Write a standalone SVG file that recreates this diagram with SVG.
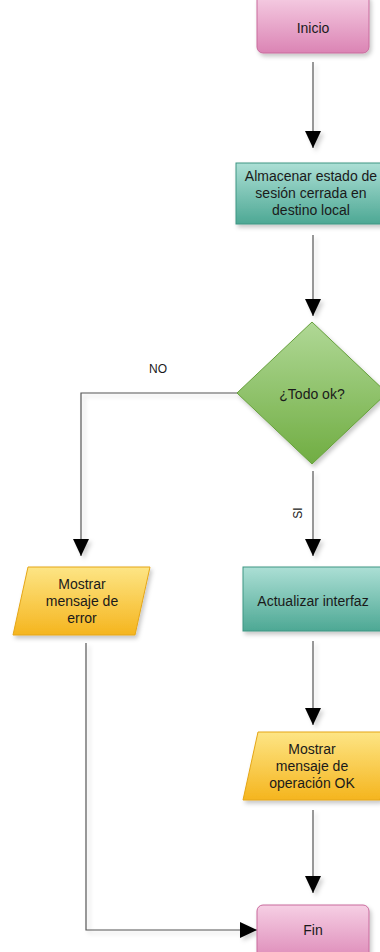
<svg xmlns="http://www.w3.org/2000/svg" width="380" height="952" viewBox="0 0 380 952">
  <defs>
    <linearGradient id="gPink" x1="0" y1="0" x2="0" y2="1">
      <stop offset="0" stop-color="#f6cfe4"/>
      <stop offset="1" stop-color="#db84b4"/>
    </linearGradient>
    <linearGradient id="gTeal" x1="0" y1="0" x2="0" y2="1">
      <stop offset="0" stop-color="#acdfd5"/>
      <stop offset="1" stop-color="#4da894"/>
    </linearGradient>
    <linearGradient id="gGreen" x1="0" y1="0" x2="0" y2="1">
      <stop offset="0" stop-color="#b0d896"/>
      <stop offset="1" stop-color="#70ad42"/>
    </linearGradient>
    <linearGradient id="gYellow" x1="0" y1="0" x2="0" y2="1">
      <stop offset="0" stop-color="#fde585"/>
      <stop offset="1" stop-color="#f5b51e"/>
    </linearGradient>
    <!-- soft drop shadow for shapes -->
    <filter id="shadow" x="-20%" y="-20%" width="150%" height="150%">
      <feDropShadow dx="2" dy="3" stdDeviation="2" flood-color="#000" flood-opacity="0.22"/>
    </filter>
    <!-- shadow for lines; user-space region so straight lines keep a non-empty box -->
    <filter id="lineShadow" filterUnits="userSpaceOnUse" x="0" y="0" width="380" height="952">
      <feDropShadow dx="3" dy="3" stdDeviation="2" flood-color="#000" flood-opacity="0.18"/>
    </filter>
    <marker id="arrow" markerUnits="userSpaceOnUse" markerWidth="18" markerHeight="18" refX="17" refY="8" orient="auto">
      <path d="M0 0 L17 8 L0 16 Z" fill="#000"/>
    </marker>
  </defs>
  <style>
    .lbl { font-family: "Liberation Sans", Arial, sans-serif; font-size: 14px; fill: #1a1a1a; text-anchor: middle; }
    .small { font-family: "Liberation Sans", Arial, sans-serif; font-size: 12px; fill: #1a1a1a; text-anchor: middle; }
    .edge { fill: none; stroke: #555; stroke-width: 1.2; marker-end: url(#arrow); }
    .pink { fill: url(#gPink); stroke: #c86a9c; stroke-width: 1; filter: url(#shadow); }
    .teal { fill: url(#gTeal); stroke: #3f9583; stroke-width: 1; filter: url(#shadow); }
    .green { fill: url(#gGreen); stroke: #66a03c; stroke-width: 1; filter: url(#shadow); }
    .yellow { fill: url(#gYellow); stroke: #e5a616; stroke-width: 1; filter: url(#shadow); }
  </style>

  <g id="connectors">
    <g filter="url(#lineShadow)">
      <path class="edge" d="M313 62 V148"/>
      <path class="edge" d="M313 235 V316"/>
      <path class="edge" d="M237 393 H81 V556"/>
      <path class="edge" d="M313 471 V556"/>
      <path class="edge" d="M313 641 V725"/>
      <path class="edge" d="M313 810 V893"/>
      <path class="edge" d="M86 643 V930 H257"/>
    </g>
    <text class="small" x="158" y="373">NO</text>
    <text class="small" transform="translate(302 513) rotate(-90)" x="0" y="0">SI</text>
  </g>

  <g id="inicio">
    <rect class="pink" x="257" y="-6" width="112" height="59" rx="6"/>
    <text class="lbl" x="313" y="33">Inicio</text>
  </g>

  <g id="almacenar">
    <rect class="teal" x="236" y="163" width="150" height="61"/>
    <text class="lbl" x="311" y="181">Almacenar estado de</text>
    <text class="lbl" x="311" y="198">sesión cerrada en</text>
    <text class="lbl" x="311" y="215">destino local</text>
  </g>

  <g id="decision">
    <polygon class="green" points="312,322 387,393 312,464 237,393"/>
    <text class="lbl" x="312" y="399">¿Todo ok?</text>
  </g>

  <g id="error">
    <polygon class="yellow" points="28,567 150,567 135,635 13,635"/>
    <text class="lbl" x="82" y="589">Mostrar</text>
    <text class="lbl" x="82" y="606">mensaje de</text>
    <text class="lbl" x="82" y="623">error</text>
  </g>

  <g id="actualizar">
    <rect class="teal" x="243" y="567" width="145" height="64"/>
    <text class="lbl" x="313" y="606">Actualizar interfaz</text>
  </g>

  <g id="ok">
    <polygon class="yellow" points="258,732 395,732 380,800 243,800"/>
    <text class="lbl" x="312" y="754">Mostrar</text>
    <text class="lbl" x="312" y="771">mensaje de</text>
    <text class="lbl" x="312" y="788">operación OK</text>
  </g>

  <g id="fin">
    <rect class="pink" x="257" y="905" width="112" height="60" rx="6"/>
    <text class="lbl" x="313" y="935">Fin</text>
  </g>
</svg>
